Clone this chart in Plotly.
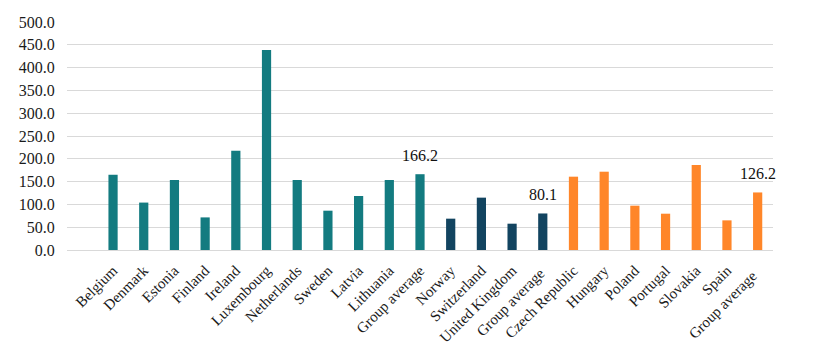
import plotly.graph_objects as go

categories = ["Belgium", "Denmark", "Estonia", "Finland", "Ireland", "Luxembourg",
              "Netherlands", "Sweden", "Latvia", "Lithuania", "Group average",
              "Norway", "Switzerland", "United Kingdom", "Group average ",
              "Czech Republic", "Hungary", "Poland", "Portugal", "Slovakia", "Spain",
              "Group average  "]
values = [165.0, 104.0, 153.5, 71.5, 217.8, 438.6, 153.5, 86.2, 118.4, 153.5, 166.2,
          68.7, 114.8, 57.7, 80.1,
          160.8, 171.7, 97.2, 79.6, 186.4, 65.0, 126.2]
groups = [0] * 11 + [1] * 4 + [2] * 7
group_colors = ["#137B80", "#124460", "#FF8629"]
avg_labels = {10: "166.2", 14: "80.1", 21: "126.2"}

colors = [group_colors[g] for g in groups]
SERIF = "Liberation Serif, Times New Roman, serif"

fig = go.Figure()
fig.add_trace(go.Bar(
    x=categories, y=values,
    marker=dict(color=colors, line=dict(width=0)),
    width=0.3,
    hoverinfo="x+y",
))

for i, lab in avg_labels.items():
    fig.add_annotation(x=categories[i], y=values[i], text=lab, showarrow=False,
                       yanchor="bottom", yshift=8,
                       font=dict(family=SERIF, size=16, color="#111111"))

fig.update_layout(
    width=817, height=352,
    margin=dict(l=67, r=44, t=22, b=102),
    paper_bgcolor="white", plot_bgcolor="white",
    showlegend=False,
    font=dict(family=SERIF, size=15, color="#1a1a1a"),
    xaxis=dict(type="category", range=[-1.5, 21.5], tickangle=-45,
               showgrid=False, showline=False, ticks="outside", ticklen=5,
               tickcolor="rgba(0,0,0,0)", automargin=False,
               tickfont=dict(family=SERIF, size=15)),
    yaxis=dict(range=[0, 500], dtick=50, tickformat=".1f", showgrid=True,
               gridcolor="#D9D9D9", gridwidth=1, zeroline=True, zerolinecolor="#D9D9D9",
               zerolinewidth=1, ticks="outside", ticklen=8, tickcolor="rgba(0,0,0,0)",
               automargin=False, tickfont=dict(family=SERIF, size=16),
               fixedrange=True),
)

fig.write_html("out.html")
